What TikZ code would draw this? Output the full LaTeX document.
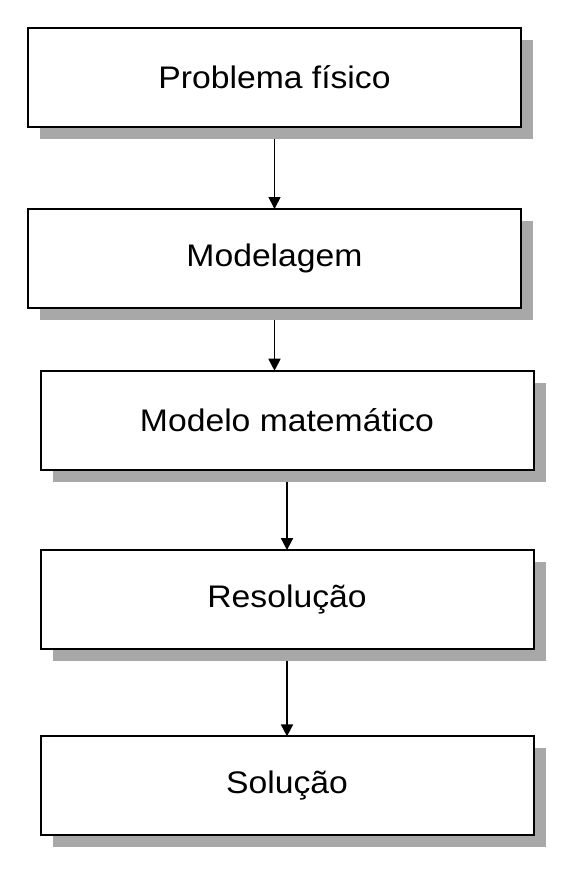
\documentclass[tikz,border=0pt]{standalone}
\usepackage{fontspec}
\setmainfont{Liberation Sans}[FakeStretch=1.08]
\usetikzlibrary{arrows.meta, positioning, shadows}
\definecolor{shadowgray}{RGB}{168,168,168}

\begin{document}
\begin{tikzpicture}[x=0.5pt, y=-0.5pt,
  stage/.style={draw=black, fill=white, line width=1pt, minimum width=246.5pt, minimum height=49.5pt,
    inner sep=0pt, outer sep=0pt, font=\fontsize{15.6}{18}\selectfont,
    drop shadow={shadow xshift=6pt, shadow yshift=-6pt, fill=shadowgray, opacity=1}},
  flow/.style={-{Triangle[length=6pt, width=6pt]}, line width=0.9pt}]
  \useasboundingbox (0,0) rectangle (567,875);
  \node[stage] (fisico) at (274.5,77) {Problema físico};
  \node[stage, below=41.25pt of fisico] (modelagem) {Modelagem};
  \node[stage, below=31.35pt of modelagem, xshift=6.25pt] (modelo) {Modelo matemático};
  \node[stage, below=40.2pt of modelo] (resolucao) {Resolução};
  \node[stage, below=43.65pt of resolucao] (solucao) {Solução};
  % arrows leave from below the shadow
  \draw[flow] ([yshift=-6pt]fisico.south) -- (modelagem.north);
  \draw[flow] ([yshift=-6pt]modelagem.south) -- (modelagem.south |- modelo.north);
  \draw[flow] ([yshift=-6pt]modelo.south) -- (resolucao.north);
  \draw[flow] ([yshift=-6pt]resolucao.south) -- (solucao.north);
\end{tikzpicture}
\end{document}
